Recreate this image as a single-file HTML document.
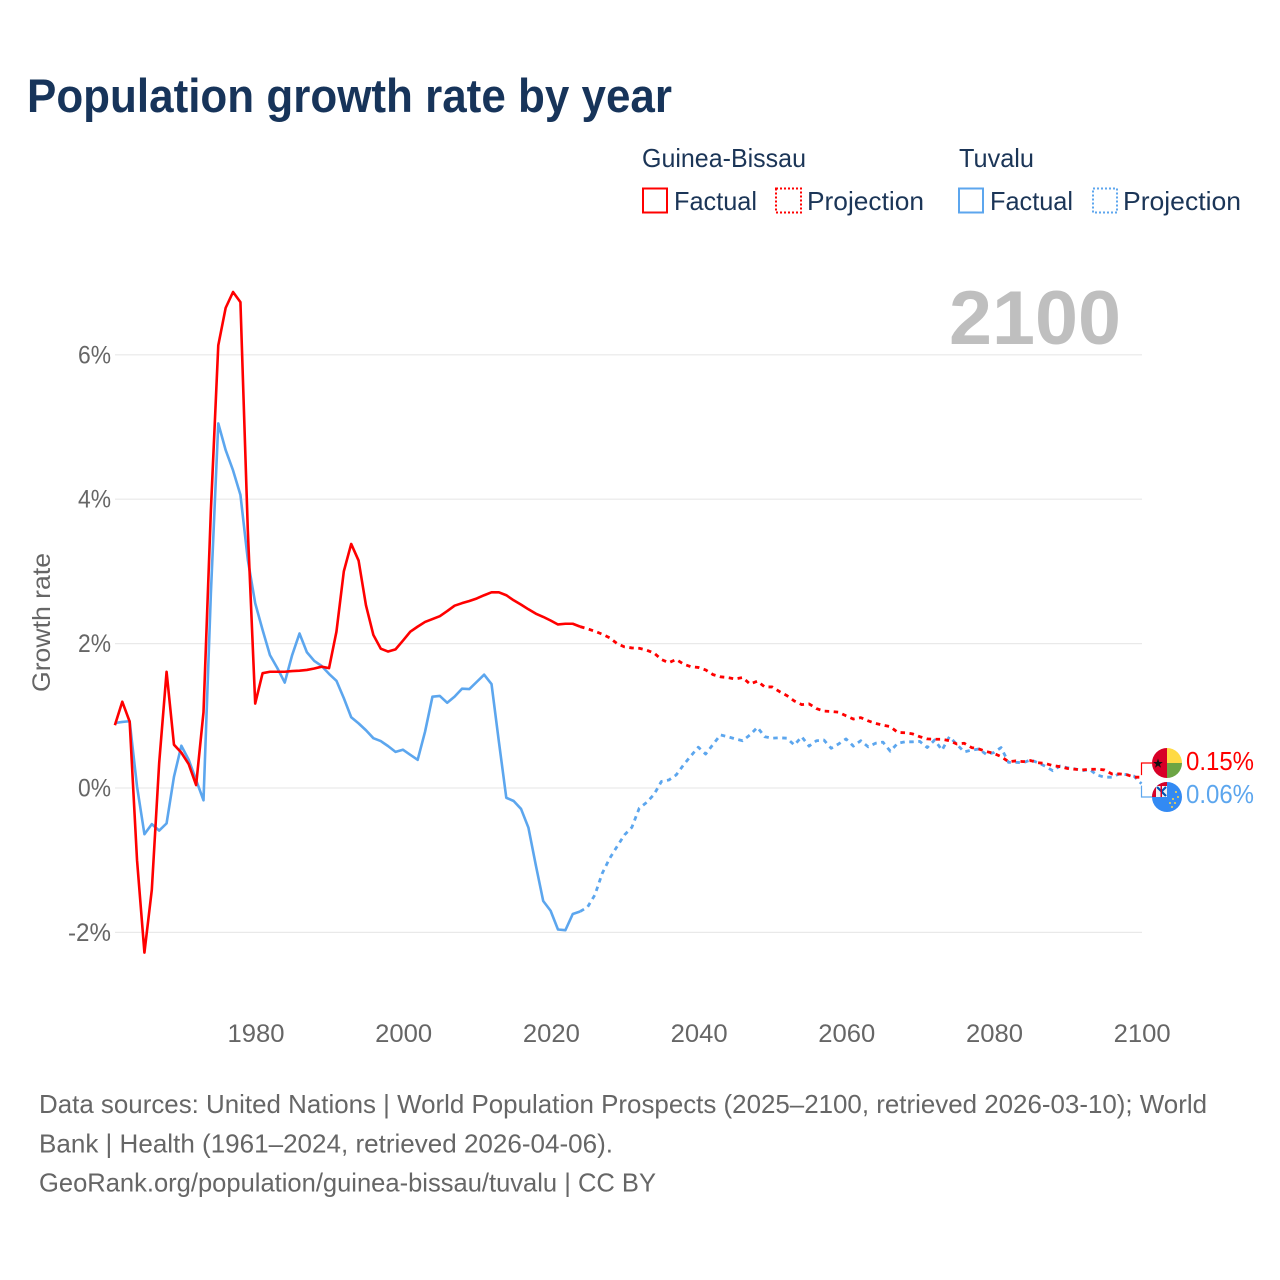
<!DOCTYPE html>
<html lang="en">
<head>
<meta charset="utf-8">
<title>Population growth rate by year</title>
<style>
html,body{margin:0;padding:0;background:#fff;width:1280px;height:1280px;overflow:hidden}
svg{display:block;font-family:"Liberation Sans",sans-serif}
</style>
</head>
<body>
<svg id="chart" xmlns="http://www.w3.org/2000/svg" width="1280" height="1280" viewBox="0 0 1280 1280">
  <defs>
    <clipPath id="clip-gb"><circle cx="1167" cy="763" r="15"/></clipPath>
    <clipPath id="clip-tv"><circle cx="1167" cy="797" r="15"/></clipPath>
  </defs>
  <rect x="0" y="0" width="1280" height="1280" fill="#fff"/>
  <text x="27" y="112" font-size="47" font-weight="700" fill="#17345a" textLength="645" lengthAdjust="spacingAndGlyphs">Population growth rate by year</text>

  <g font-size="26" fill="#1b3557">
    <text x="642" y="167" textLength="164" lengthAdjust="spacingAndGlyphs">Guinea-Bissau</text>
    <text x="959" y="167" textLength="75" lengthAdjust="spacingAndGlyphs">Tuvalu</text>
    <rect x="643" y="188.500" width="24" height="24" fill="none" stroke="#ff0000" stroke-width="2"/>
    <text x="674" y="210" textLength="83" lengthAdjust="spacingAndGlyphs">Factual</text>
    <rect x="776" y="188.500" width="25" height="24" fill="none" stroke="#ff0000" stroke-width="2" stroke-dasharray="2 2"/>
    <text x="807" y="210" textLength="117" lengthAdjust="spacingAndGlyphs">Projection</text>
    <rect x="959" y="188.500" width="24" height="24" fill="none" stroke="#5ca6ee" stroke-width="2"/>
    <text x="990" y="210" textLength="83" lengthAdjust="spacingAndGlyphs">Factual</text>
    <rect x="1093" y="188.500" width="24" height="24" fill="none" stroke="#5ca6ee" stroke-width="2" stroke-dasharray="2 2"/>
    <text x="1123" y="210" textLength="118" lengthAdjust="spacingAndGlyphs">Projection</text>
  </g>

  <text x="949" y="344" font-size="76" font-weight="700" fill="#bfbfbf" textLength="172" lengthAdjust="spacingAndGlyphs">2100</text>
  <text transform="translate(50,692) rotate(-90)" x="0" y="0" font-size="25" fill="#666" textLength="139" lengthAdjust="spacingAndGlyphs">Growth rate</text>

  <g id="grid"></g>
  <g id="yticks"></g>
  <g id="xticks"></g>
  <g id="series"></g>
  <g id="endlabels"></g>

  <g clip-path="url(#clip-gb)">
    <rect x="1152" y="748" width="15" height="30" fill="#d80027"/>
    <rect x="1167" y="748" width="15" height="15" fill="#ffda44"/>
    <rect x="1167" y="763" width="15" height="15" fill="#6da544"/>
    <polygon points="1158,758.500 1159.200,762 1162.800,762 1159.900,764.200 1161,767.700 1158,765.500 1155,767.700 1156.100,764.200 1153.200,762 1156.800,762" fill="#111"/>
  </g>
  <g clip-path="url(#clip-tv)">
    <rect x="1152" y="782" width="30" height="30" fill="#338af3"/>
    <rect x="1152" y="782" width="15" height="15" fill="#d80027"/>
    <rect x="1156" y="786" width="11" height="11" fill="#f0f0f0"/>
    <path d="M1157 787l9 9M1166 787l-5 5" stroke="#0052b4" stroke-width="2.200" fill="none"/>
    <path d="M1160.500 786h1.500v11h-1.500z" fill="#d80027"/>
    <g fill="#ffda44">
      <circle cx="1176" cy="792" r="1"/>
      <circle cx="1178" cy="797" r="1"/>
      <circle cx="1173" cy="799" r="1"/>
      <circle cx="1175" cy="803" r="1"/>
      <circle cx="1170" cy="803" r="1"/>
      <circle cx="1172" cy="807" r="1"/>
    </g>
  </g>

  <g font-size="26" fill="#666">
    <text x="39" y="1113" textLength="1168" lengthAdjust="spacingAndGlyphs">Data sources: United Nations | World Population Prospects (2025–2100, retrieved 2026-03-10); World</text>
    <text x="39" y="1152.500" textLength="574" lengthAdjust="spacingAndGlyphs">Bank | Health (1961–2024, retrieved 2026-04-06).</text>
    <text x="39" y="1191.500" textLength="617" lengthAdjust="spacingAndGlyphs">GeoRank.org/population/guinea-bissau/tuvalu | CC BY</text>
  </g>
</svg>
<script>
const firstFactualYear = 1961;
const firstProjectionYear = 2025;
const xTickYears = [1980, 2000, 2020, 2040, 2060, 2080, 2100];
const yTickValues = [6, 4, 2, 0, -2];

const guineaBissauFactual = [
  0.87,1.195,0.92,-1.0,-2.28,-1.41,0.35,1.61,0.6,0.49,0.33,0.04,1.05,3.85,6.13,6.65,6.87,6.73,3.57,1.17,
  1.59,1.61,1.61,1.61,1.62,1.625,1.635,1.655,1.68,1.66,2.165,3.0,3.38,3.15,2.53,2.12,1.93,1.89,1.92,2.04,
  2.165,2.235,2.30,2.34,2.38,2.45,2.525,2.56,2.59,2.625,2.67,2.71,2.71,2.67,2.60,2.54,2.475,2.415,2.37,2.32,
  2.265,2.275,2.275,2.235
];
const guineaBissauProjection = [
  2.205,2.17,2.13,2.08,2.0,1.955,1.94,1.935,1.91,1.87,1.78,1.735,1.78,1.717,1.68,1.67,1.635,1.57,1.54,1.53,
  1.51,1.53,1.44,1.48,1.40,1.40,1.335,1.28,1.205,1.155,1.165,1.10,1.065,1.06,1.05,1.0,0.955,0.975,0.93,0.895,
  0.87,0.85,0.77,0.765,0.75,0.71,0.68,0.675,0.675,0.655,0.61,0.62,0.56,0.54,0.505,0.48,0.435,0.365,0.375,0.365,
  0.38,0.35,0.34,0.31,0.295,0.27,0.26,0.25,0.26,0.26,0.25,0.195,0.195,0.185,0.15,0.15
];
const tuvaluFactual = [
  0.90,0.915,0.925,0.02,-0.64,-0.50,-0.59,-0.49,0.155,0.585,0.39,0.11,-0.17,2.7,5.05,4.68,4.40,4.06,3.16,2.56,
  2.19,1.84,1.66,1.46,1.84,2.14,1.88,1.76,1.69,1.58,1.485,1.245,0.98,0.895,0.80,0.69,0.65,0.58,0.50,0.53,
  0.46,0.39,0.78,1.265,1.275,1.18,1.265,1.375,1.37,1.47,1.57,1.44,0.64,-0.135,-0.18,-0.29,-0.55,-1.07,-1.565,-1.70,
  -1.96,-1.97,-1.745,-1.71
];
const tuvaluProjection = [
  -1.65,-1.48,-1.18,-0.975,-0.81,-0.65,-0.545,-0.28,-0.2,-0.09,0.09,0.11,0.18,0.32,0.445,0.565,0.47,0.605,0.735,0.71,
  0.68,0.655,0.735,0.84,0.71,0.69,0.695,0.69,0.595,0.71,0.58,0.655,0.665,0.55,0.61,0.68,0.58,0.655,0.57,0.62,
  0.635,0.51,0.62,0.64,0.64,0.645,0.56,0.665,0.525,0.71,0.605,0.50,0.525,0.54,0.465,0.49,0.56,0.355,0.355,0.35,
  0.39,0.35,0.30,0.24,0.305,0.28,0.265,0.24,0.255,0.18,0.15,0.15,0.195,0.185,0.165,0.06
];

const NS = 'http://www.w3.org/2000/svg';
const RED = '#ff0000';
const BLUE = '#5ca6ee';
function xScale(year) { return 255.2 + (year - 1980) * 7.385; }
function yScale(value) { return 788 - value * 72.2; }
function make(tag, attrs, parent) {
  const el = document.createElementNS(NS, tag);
  for (const k in attrs) el.setAttribute(k, attrs[k]);
  parent.appendChild(el);
  return el;
}
function pathFrom(years, values) {
  return values.map(function (v, i) {
    return (i ? 'L' : 'M') + xScale(years[i]).toFixed(2) + ' ' + yScale(v).toFixed(2);
  }).join('');
}
function yearsFrom(start, n) {
  const out = [];
  for (let i = 0; i < n; i++) out.push(start + i);
  return out;
}

const grid = document.getElementById('grid');
const yticks = document.getElementById('yticks');
yTickValues.forEach(function (v) {
  const line = make('line', {x1: 115, x2: 1142, y1: yScale(v), y2: yScale(v), stroke: '#e9e9e9', 'stroke-width': 1.2}, grid);
  
  
  const label = v + '%';
  const t = make('text', {x: 111, y: yScale(v) + 8.5, 'text-anchor': 'end', 'font-size': 25, fill: '#666', textLength: 33 + (label.length - 2) * 10, lengthAdjust: 'spacingAndGlyphs'}, yticks);
  
  
  t.textContent = label;
});

const xticks = document.getElementById('xticks');
xTickYears.forEach(function (yr) {
  const t = make('text', {x: xScale(yr) + 0.8, y: 1042, 'text-anchor': 'middle', 'font-size': 25, fill: '#666', textLength: 57, lengthAdjust: 'spacingAndGlyphs'}, xticks);
  
  
  t.textContent = yr;
});

const series = document.getElementById('series');
function drawSeries(name, factual, projection, color) {
  const fy = yearsFrom(firstFactualYear, factual.length);
  const py = yearsFrom(firstProjectionYear, projection.length);
  const f = make('path', {d: pathFrom(fy, factual), fill: 'none', stroke: color, 'stroke-width': 2.6, 'stroke-linejoin': 'round'}, series);
  
  
  const joined = [factual[factual.length - 1]].concat(projection);
  const jy = [fy[fy.length - 1]].concat(py);
  const p = make('path', {d: pathFrom(jy, joined), fill: 'none', stroke: color, 'stroke-width': 2.8, 'stroke-dasharray': '4.5 4.5', 'stroke-linejoin': 'round'}, series);
  
  
}
drawSeries('tuvalu', tuvaluFactual, tuvaluProjection, BLUE);
drawSeries('guinea-bissau', guineaBissauFactual, guineaBissauProjection, RED);

const endlabels = document.getElementById('endlabels');
function drawEnd(name, value, anchorY, baseline, color) {
  const yEnd = yScale(value);
  const c = make('path', {d: 'M1141.500 ' + (yEnd + (anchorY < yEnd ? -2 : 2)) + 'V' + anchorY + 'H1152', fill: 'none', stroke: color, 'stroke-width': 1.2}, endlabels);
  
  
  const t = make('text', {x: 1186, y: baseline, 'font-size': 26, fill: color, textLength: 68, lengthAdjust: 'spacingAndGlyphs'}, endlabels);
  
  
  t.textContent = value.toFixed(2) + '%';
}
drawEnd('guinea-bissau', guineaBissauProjection[guineaBissauProjection.length - 1], 763, 770, RED);
drawEnd('tuvalu', tuvaluProjection[tuvaluProjection.length - 1], 797, 803, BLUE);
</script>
</body>
</html>
